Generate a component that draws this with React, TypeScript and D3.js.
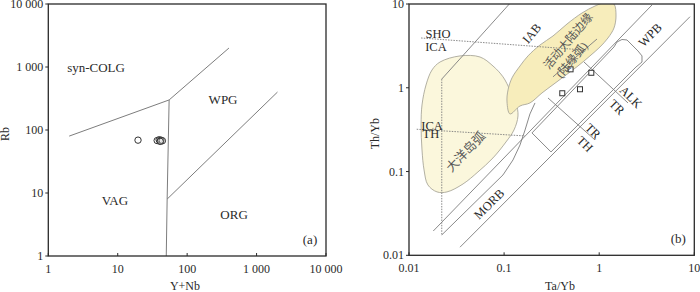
import React from "react";
import * as d3 from "d3";

type Pt = [number, number];

// ---------- (a) Rb vs Y+Nb ----------
const aTicks = [1, 10, 100, 1000, 10000];
const aTickLabels = ["1", "10", "100", "1 000", "10 000"];
const aBoundaries: Pt[][] = [
  [[2, 80], [55, 300], [400, 2000]],
  [[55, 300], [51.5, 8], [50, 1]],
  [[51.5, 8], [2000, 400]],
];
const aSamples: Pt[] = [
  [19.6, 69], [37, 68], [39.5, 70], [40.7, 67], [42, 69], [44, 67.5], [41, 66],
];
const aFieldNames = ["syn-COLG", "WPG", "VAG", "ORG"];
const aFieldAt: Pt[] = [[4.87, 1000], [329, 311], [9.1, 7.5], [474, 4.6]];

// ---------- (b) Th/Yb vs Ta/Yb ----------
const bTicks = [0.01, 0.1, 1, 10];
const bTickLabels = ["0.01", "0.1", "1", "10"];
const bArrayUpper: Pt[] = [[0.018, 0.0195], [3.59, 9.73]];
const bArrayLower: Pt[] = [[0.0344, 0.0125], [9.01, 7.05]];
const bWpb: Pt[] = [
  [0.1965, 0.2888], [1.431, 3.07], [1.539, 3.52], [1.736, 3.77], [1.96, 3.72],
  [2.557, 2.75], [2.818, 2.4], [2.818, 2.03], [2.437, 1.77], [0.3112, 0.1713],
];
const bIabLine: Pt[] = [[0.1135, 10], [0.0221, 1.27]];
const bIabDashed: Pt[] = [[0.0221, 1.27], [0.0221, 0.0175]];
const bArcEdge: Pt[] = [
  [0.0221, 0.0175], [0.0973, 0.091], [0.124, 0.1374], [0.147, 0.2075],
  [0.166, 0.313], [0.187, 0.487], [0.2113, 0.659],
];
const bShoIca: Pt[] = [[0.0134, 3.93], [0.6755, 2.83]];
const bIcaTh: Pt[] = [[0.01205, 0.3198], [0.1658, 0.266]];
const bAcmInner: Pt[] = [[0.3267, 1.35], [0.948, 3.82]];
const bThTr: Pt[] = [[0.2894, 0.7556], [0.903, 0.2383]];
const bTrAlk: Pt[] = [[0.692, 2.03], [2.008, 0.659]];
const bOceanicArc: Pt[] = [
  [0.0212, 2.03], [0.0344, 2.4], [0.0558, 2.33], [0.0764, 1.82], [0.0974, 1.35],
  [0.1153, 0.942], [0.1334, 0.659], [0.14, 0.461], [0.127, 0.3136], [0.1047, 0.2255],
  [0.0764, 0.1453], [0.0531, 0.0989], [0.037, 0.0711], [0.0251, 0.0571], [0.0197, 0.0571],
  [0.0158, 0.0692], [0.0144, 0.1045], [0.0137, 0.181], [0.0134, 0.36], [0.0137, 0.6235],
  [0.0151, 1.08], [0.01745, 1.63],
];
const bContinentalArc: Pt[] = [
  [0.1153, 0.487], [0.1073, 0.677], [0.11, 0.942], [0.121, 1.31], [0.147, 1.82],
  [0.1784, 2.4], [0.2385, 3.24], [0.3267, 4.15], [0.4586, 5.77], [0.6594, 7.81],
  [0.903, 9.46], [1.208, 10.56], [1.43, 10], [1.502, 7.19], [1.43, 5.17], [1.237, 3.93],
  [1.02, 3.07], [0.8, 2.4], [0.598, 1.82], [0.4475, 1.42], [0.3347, 1.11],
  [0.2503, 0.867], [0.187, 0.659], [0.147, 0.606],
];
const bSamples: Pt[] = [[0.5, 1.66], [0.826, 1.51], [0.628, 0.96], [0.409, 0.86]];
const bLabels = ["SHO", "ICA", "ICA", "TH", "IAB", "活动大陆边缘", "(陆缘弧)", "大洋岛弧", "MORB", "WPB", "ALK", "TR", "TR", "TH"];
const bLabelAt: Pt[] = [
  [0.0202, 4.39], [0.0192, 3.07], [0.01745, 0.35], [0.017, 0.281], [0.195, 4.47],
  [0.47, 3.62], [0.514, 2.15], [0.0394, 0.1728], [0.0694, 0.041], [3.42, 4.27],
  [2.16, 0.777], [1.54, 0.59], [0.86, 0.305], [0.709, 0.2135],
];
const bLabelTilt = [0, 0, 0, 0, -50, -50, -50, -46, -45, -45, 45, 45, 45, 45];

const FONT = "'Liberation Serif', 'Times New Roman', 'Noto Sans CJK SC', serif";
const INK = "#2a2a2a";
const LINE = "#7d7d7d";
const EDGE = "#a9a79a";

function Axes({ x, y, ticks, labels, xTitle, yTitle, xTitleX, yTitleX, tag }: any) {
  const [x0, x1] = x.range();
  const [y0, y1] = y.range();
  return (
    <g fontFamily={FONT} fontSize={12} fill={INK}>
      <rect x={x0} y={y1} width={x1 - x0} height={y0 - y1} fill="none" stroke={INK} strokeWidth={1.3} />
      {ticks.map((t: number, i: number) => (
        <g key={"x" + i}>
          <line x1={x(t)} x2={x(t)} y1={y0} y2={y0 - 3} stroke={INK} />
          <text x={x(t)} y={y0 + 17} textAnchor="middle">{labels[i]}</text>
        </g>
      ))}
      {ticks.map((t: number, i: number) => (
        <g key={"y" + i}>
          <line x1={x0} x2={x0 - 3} y1={y(t)} y2={y(t)} stroke={INK} />
          <text x={x0 - 5} y={y(t) + 4} textAnchor="end">{labels[i]}</text>
        </g>
      ))}
      <text x={xTitleX} y={290} textAnchor="middle">{xTitle}</text>
      <text transform={`translate(${yTitleX},${(y0 + y1) / 2 + 4}) rotate(-90)`} textAnchor="middle">{yTitle}</text>
      <text x={x1 - 16} y={y0 - 12} textAnchor="middle" fontSize={13}>{tag}</text>
    </g>
  );
}

function PanelA() {
  const x = d3.scaleLog().domain([1, 10000]).range([48.3, 326]);
  const y = d3.scaleLog().domain([1, 10000]).range([256, 4]);
  const line = d3.line<Pt>().x((d) => x(d[0])).y((d) => y(d[1]));
  return (
    <g>
      {aBoundaries.map((b, i) => (
        <path key={i} d={line(b) || ""} fill="none" stroke={LINE} strokeWidth={1} />
      ))}
      {aSamples.map((d, i) => (
        <circle key={i} cx={x(d[0])} cy={y(d[1])} r={3.2} fill="#fff" fillOpacity={0.3} stroke="#333" strokeWidth={1} />
      ))}
      {aFieldNames.map((n, i) => (
        <text key={n} x={x(aFieldAt[i][0])} y={y(aFieldAt[i][1])} dy="0.35em" textAnchor="middle"
          fontFamily={FONT} fontSize={13} fill={INK}>{n}</text>
      ))}
      <Axes x={x} y={y} ticks={aTicks} labels={aTickLabels} xTitle="Y+Nb" yTitle="Rb"
        xTitleX={185} yTitleX={9} tag="(a)" />
    </g>
  );
}

function PanelB() {
  const x = d3.scaleLog().domain([0.01, 10]).range([409, 694.3]);
  const y = d3.scaleLog().domain([0.01, 10]).range([255.3, 4]);
  const line = d3.line<Pt>().x((d) => x(d[0])).y((d) => y(d[1]));
  const blob = d3.line<Pt>().x((d) => x(d[0])).y((d) => y(d[1])).curve(d3.curveCatmullRomClosed.alpha(0.5));
  const closed = d3.line<Pt>().x((d) => x(d[0])).y((d) => y(d[1])).curve(d3.curveLinearClosed);
  const solid = [bArrayUpper, bArrayLower, bIabLine, bArcEdge, bAcmInner, bThTr, bTrAlk];
  const dotted = [bIabDashed, bShoIca, bIcaTh];
  return (
    <g>
      <defs>
        <clipPath id="clipB">
          <rect x={409} y={4} width={285.3} height={251.3} />
        </clipPath>
      </defs>
      <g clipPath="url(#clipB)">
        <path d={blob(bOceanicArc) || ""} fill="#fbf7dc" stroke={EDGE} strokeWidth={0.9} />
        <path d={blob(bContinentalArc) || ""} fill="#f7edbb" stroke={EDGE} strokeWidth={0.9} />
        {solid.map((l, i) => (
          <path key={"s" + i} d={line(l) || ""} fill="none" stroke={LINE} strokeWidth={0.9} />
        ))}
        {dotted.map((l, i) => (
          <path key={"d" + i} d={line(l) || ""} fill="none" stroke={LINE} strokeWidth={0.9} strokeDasharray="1.5,1.2" />
        ))}
        <path d={closed(bWpb) || ""} fill="none" stroke={LINE} strokeWidth={0.9} />
        {bSamples.map((d, i) => (
          <rect key={i} x={x(d[0]) - 2.5} y={y(d[1]) - 2.5} width={5} height={5} fill="#fff" stroke="#333" strokeWidth={1} />
        ))}
        {bLabels.map((n, i) => {
          const px = x(bLabelAt[i][0]);
          const py = y(bLabelAt[i][1]);
          return (
            <text key={i} transform={`translate(${px},${py}) rotate(${bLabelTilt[i]})`} dy="0.35em"
              textAnchor="middle" fontFamily={FONT} fontSize={n.length > 4 && /[\u4e00-\u9fff]/.test(n) ? 11.5 : 12.5}
              fill={/[\u4e00-\u9fff]/.test(n) ? "#555" : INK}>{n}</text>
          );
        })}
      </g>
      <Axes x={x} y={y} ticks={bTicks} labels={bTickLabels} xTitle="Ta/Yb" yTitle="Th/Yb"
        xTitleX={560} yTitleX={379} tag="(b)" />
    </g>
  );
}

export default function App() {
  return (
    <svg width={700} height={292} style={{ position: "absolute", left: 0, top: 0, background: "#fff" }}>
      <rect width={700} height={292} fill="#fff" />
      <PanelA />
      <PanelB />
    </svg>
  );
}
